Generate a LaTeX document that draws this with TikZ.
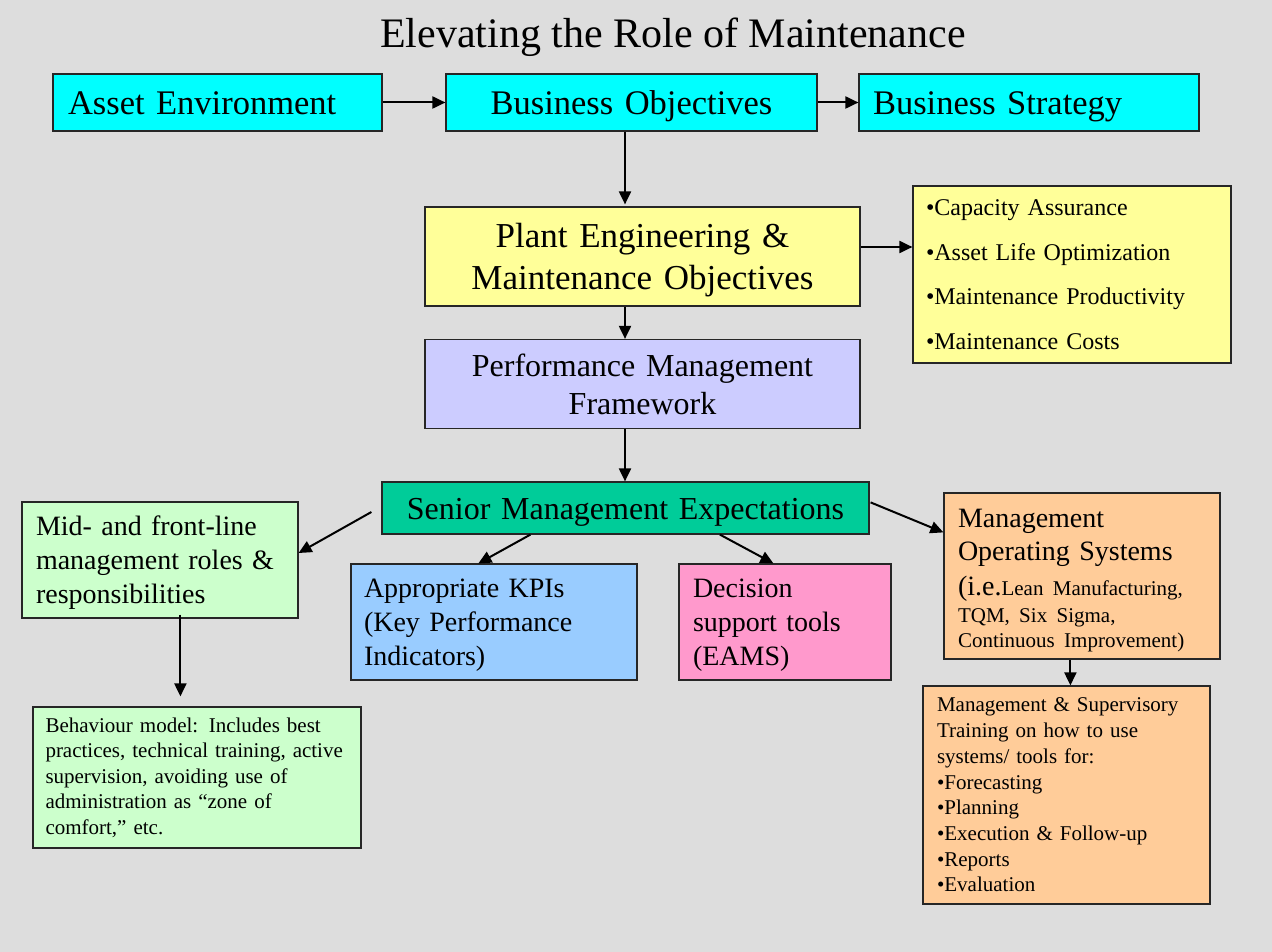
\documentclass[tikz,border=0pt]{standalone}
\usepackage{fontspec}
\setmainfont{Liberation Serif}
\usetikzlibrary{arrows.meta,calc}
\definecolor{bgcol}{RGB}{221,221,221}
\definecolor{cyanbox}{RGB}{0,255,255}
\definecolor{yellowbox}{RGB}{255,255,153}
\definecolor{lilacbox}{RGB}{204,204,255}
\definecolor{seniorbox}{RGB}{0,204,153}
\definecolor{mintbox}{RGB}{204,255,204}
\definecolor{bluebox}{RGB}{153,204,255}
\definecolor{pinkbox}{RGB}{255,153,204}
\definecolor{peachbox}{RGB}{255,204,153}
\newcommand\setfs[2]{\fontsize{#1}{#2}\selectfont}
% strut that fixes the height of a first line
\newcommand\topstrut[1]{\rule{0pt}{#1}}
\begin{document}
\begin{tikzpicture}[x=1pt,y=-1pt,
  box/.style={draw=black!85, line width=1.2pt, rectangle, inner ysep=0pt},
  oneline/.style={text height=#1, text depth=8.6pt},
  arr/.style={-{Triangle[length=13pt,width=12pt]}, line width=2pt, draw=black}]
\fill[bgcol] (0,0) rectangle (1272,952);
\useasboundingbox (0,0) rectangle (1272,952);

% title
\node[anchor=base, font=\setfs{42}{48}] (title) at (673,48) {Elevating the Role of Maintenance};

% top row
\node[box, oneline=33.6pt, fill=cyanbox, align=left, inner xsep=15pt, text width=299pt, minimum height=57pt, font=\setfs{34.5}{40}]
  (asset) at (217.5,102.5) {Asset Environment};
\node[box, oneline=33.6pt, fill=cyanbox, align=center, inner xsep=10pt, text width=351pt, minimum height=57pt, font=\setfs{34.5}{40}]
  (bo) at (631.5,102.5) {Business Objectives};
\node[box, oneline=33.6pt, fill=cyanbox, align=left, inner xsep=14pt, text width=312pt, minimum height=57pt, font=\setfs{34.5}{40}]
  (bs) at (1029,102.5) {Business Strategy};

% objectives
\node[box, fill=yellowbox, align=center, inner xsep=10pt, text width=415pt, minimum height=99pt, font=\setfs{35}{42}]
  (plant) at (642.5,256.5) {\topstrut{32pt}Plant Engineering \&\\Maintenance Objectives};
\node[box, fill=yellowbox, align=left, inner xsep=13pt, text width=292pt, minimum height=177pt, font=\setfs{24}{44.5}]
  (cap) at (1072,274.5) {•Capacity Assurance\\•Asset Life Optimization\\•Maintenance Productivity\\•Maintenance Costs};

% framework
\node[box, fill=lilacbox, align=center, inner xsep=10pt, text width=415pt, minimum height=89pt, font=\setfs{32}{38}]
  (perf) at (642.5,384) {Performance Management\\Framework};
\node[box, oneline=32pt, fill=seniorbox, align=center, inner xsep=10pt, text width=467pt, minimum height=52pt, font=\setfs{32}{38}]
  (senior) at (625.5,508) {Senior Management Expectations};

% second level
\node[box, fill=mintbox, align=left, inner xsep=14pt, text width=248pt, minimum height=116pt, font=\setfs{28}{34}]
  (mid) at (160,560) {\topstrut{24pt}Mid- and front-line\\management roles \&\\responsibilities};
\node[box, fill=bluebox, align=left, inner xsep=13pt, text width=260pt, minimum height=116pt, font=\setfs{28}{34}]
  (kpi) at (494,622) {\topstrut{25pt}Appropriate KPIs\\(Key Performance\\Indicators)};
\node[box, fill=pinkbox, align=left, inner xsep=14pt, text width=184pt, minimum height=116pt, font=\setfs{28}{34}]
  (dec) at (785,622) {\topstrut{25pt}Decision\\support tools\\(EAMS)};
\node[box, fill=peachbox, align=left, inner xsep=14pt, text width=248pt, minimum height=166pt, font=\setfs{28}{33}]
  (mos) at (1082,576) {\topstrut{26.5pt}Management\par Operating Systems\par
  \setfs{21}{35}{\setfs{28}{35}(i.e.}Lean Manufacturing,\par
  \setfs{21}{27}TQM, Six Sigma,\par
  \setfs{21}{25}Continuous Improvement)\par};

% third level
\node[box, fill=mintbox, align=left, inner xsep=12.5pt, text width=303pt, minimum height=141pt, font=\setfs{21}{25.5}]
  (beh) at (197,777.5) {Behaviour model: Includes best\\practices, technical training, active\\supervision, avoiding use of\\administration as “zone of\\comfort,” etc.};
\node[box, fill=peachbox, align=left, inner xsep=14pt, text width=259pt, minimum height=218pt, font=\setfs{21}{25.7}]
  (train) at (1066.5,795) {Management \& Supervisory\\Training on how to use\\systems/ tools for:\\•Forecasting\\•Planning\\•Execution \& Follow-up\\•Reports\\•Evaluation};

% connectors
\coordinate (spine) at (625,0);
\coordinate (capy) at (0,247);
\draw[arr] (asset.east) -- (bo.west);
\draw[arr] (bo.east) -- (bs.west);
\draw[arr] (bo.south -| spine) -- ($(plant.north -| spine)+(0,-2)$);
\draw[arr] (plant.east |- capy) -- (cap.west |- capy);
\draw[arr] (plant.south -| spine) -- (perf.north -| spine);
\draw[arr] (perf.south -| spine) -- (senior.north -| spine);
\draw[arr] ($(senior.west)+(-10,4)$) -- ($(mid.east)+(0,-7)$);
\draw[arr] ($(senior.south west)+(149,0)$) -- ($(kpi.north west)+(128,0)$);
\draw[arr] ($(senior.south west)+(338.5,0)$) -- ($(dec.north west)+(95,0)$);
\draw[arr] ($(senior.north east)+(1,21)$) -- ($(mos.north west)+(0,40)$);
\draw[arr] ($(mos.south west)+(127,0)$) -- ($(train.north west)+(148,0)$);
\draw[arr] ($(mid.south west)+(159,-4)$) -- ($(beh.north west)+(148,-10)$);
\end{tikzpicture}
\end{document}
